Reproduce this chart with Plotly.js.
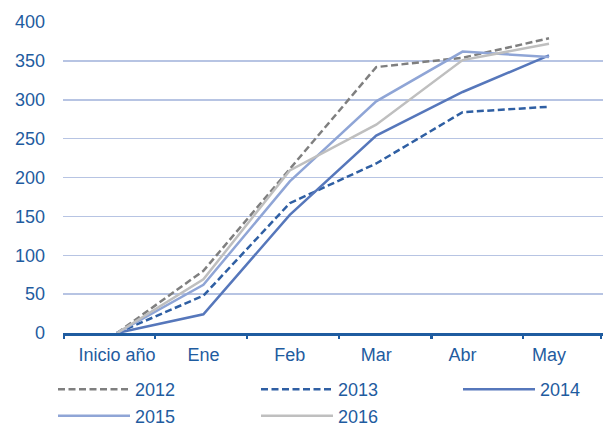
<!DOCTYPE html>
<html>
<head>
<meta charset="utf-8">
<script src="https://cdn.plot.ly/plotly-3.0.1.min.js"></script>
<style>html,body{margin:0;padding:0;background:#fff;}#chart{width:605px;height:435px;}</style>
</head>
<body>
<div id="chart"></div>
<script>
const categories = ["Inicio año", "Ene", "Feb", "Mar", "Abr", "May"];
const years = ["2012", "2013", "2014", "2015", "2016"];
const v2012 = [0, 80, 211, 342, 354, 379];
const v2013 = [0, 48, 167, 218, 284, 291];
const v2014 = [0, 24, 152, 254, 310, 357];
const v2015 = [0, 62, 195, 298, 362, 355];
const v2016 = [0, 69, 209, 268, 351, 372];
const yTicks = [0, 50, 100, 150, 200, 250, 300, 350, 400];

const values = [v2012, v2013, v2014, v2015, v2016];
const colors = ["#7f7f7f", "#2f5fa3", "#5677bb", "#8fa5d6", "#bfbfbf"];
const dashes = ["7px,3.5px", "7px,3.5px", "solid", "solid", "solid"];
const legendOf = ["legend", "legend2", "legend3", "legend", "legend2"];
const textColor = "#1f5ca0";

const traces = years.map((y, i) => ({
  x: categories, y: values[i], name: y, type: "scatter", mode: "lines",
  legend: legendOf[i],
  line: {color: colors[i], width: 2.5, dash: dashes[i]}
}));
// empty helper trace so the tick-mark overlay axis is drawn (no marks)
traces.push({x: [], y: [], xaxis: "x2", yaxis: "y", type: "scatter", mode: "lines",
  showlegend: false, hoverinfo: "skip"});

const legendBase = {
  orientation: "v", xref: "container", yref: "container",
  xanchor: "left", y: 0.147, yanchor: "top",
  itemwidth: 72, font: {size: 18, color: textColor},
  bgcolor: "rgba(0,0,0,0)", tracegroupgap: 0
};

const layout = {
  width: 605, height: 435,
  margin: {l: 63, r: 2, t: 22, b: 102, autoexpand: false},
  paper_bgcolor: "#fff", plot_bgcolor: "#fff",
  font: {family: "Liberation Sans, Arial, sans-serif", color: textColor, size: 18},
  xaxis: {
    type: "category", range: [-0.625, 5.625],
    showgrid: false, zeroline: false,
    showline: true, linecolor: "#1f5ca0", linewidth: 2.5,
    ticks: "", ticklabelstandoff: 4,
    tickfont: {size: 18, color: textColor}
  },
  xaxis2: {
    type: "linear", overlaying: "x", anchor: "y", side: "bottom",
    range: [-0.625, 5.625],
    tickmode: "array",
    tickvals: [-0.612, 0.44, 1.505, 2.57, 3.64, 4.70, 5.60],
    showticklabels: false, showgrid: false, zeroline: false, showline: false,
    ticks: "outside", ticklen: 5, tickwidth: 2.5, tickcolor: "#1f5ca0"
  },
  yaxis: {
    range: [0, 400], tickvals: yTicks, ticktext: yTicks.map(String),
    showgrid: true, gridcolor: "#b7c4e3", gridwidth: 1.5,
    zeroline: false, showline: false, ticks: "",
    ticklabelstandoff: 17,
    tickfont: {size: 18, color: textColor}
  },
  showlegend: true,
  legend: Object.assign({}, legendBase, {x: 53 / 605}),
  legend2: Object.assign({}, legendBase, {x: 256 / 605}),
  legend3: Object.assign({}, legendBase, {x: 458 / 605})
};

Plotly.newPlot("chart", traces, layout, {displayModeBar: false, staticPlot: true});
</script>
</body>
</html>
